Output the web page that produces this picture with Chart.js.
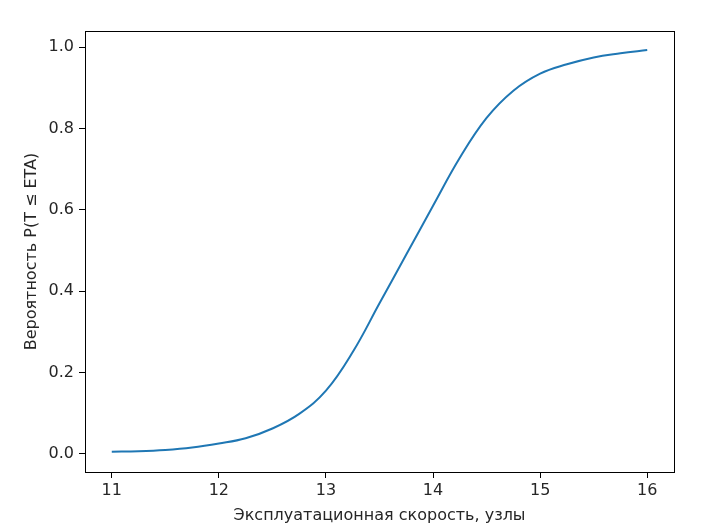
<!DOCTYPE html>
<html>
<head>
<meta charset="utf-8">
<script src="https://cdn.jsdelivr.net/npm/chart.js@4.4.1/dist/chart.umd.min.js"></script>
<style>
  html, body { margin: 0; padding: 0; background: #fff; }
  #wrap { width: 711px; height: 530px; }
</style>
</head>
<body>
<div id="wrap"><canvas id="cdf-chart" width="711" height="530"></canvas></div>
<script>
// Speed values (knots) and probability
const speeds = [11.0, 11.25, 11.5, 11.75, 12.0, 12.25, 12.5, 12.75, 13.0, 13.25, 13.5,
                13.75, 14.0, 14.25, 14.5, 14.75, 15.0, 15.25, 15.5, 15.75, 16.0];
const probs = [0.005, 0.006, 0.009, 0.015, 0.025, 0.038, 0.062, 0.098, 0.155, 0.250, 0.370,
               0.490, 0.610, 0.728, 0.826, 0.893, 0.935, 0.958, 0.975, 0.985, 0.993];
const xTicks = [11, 12, 13, 14, 15, 16];
const yTicks = [0.0, 0.2, 0.4, 0.6, 0.8, 1.0];

const points = speeds.map((s, i) => ({ x: s, y: probs[i] }));
const textColor = '#262626';
const font = { family: 'DejaVu Sans', size: 16 };

// Box around plot area, like matplotlib spines
const frame = {
  id: 'frame',
  afterDraw(chart) {
    const { ctx, chartArea: a } = chart;
    ctx.save();
    ctx.strokeStyle = '#000';
    ctx.lineWidth = 1;
    ctx.strokeRect(a.left + 0.5, a.top + 0.5, a.right - a.left, a.bottom - a.top);
    ctx.restore();
  }
};

new Chart(document.getElementById('cdf-chart'), {
  type: 'line',
  data: {
    datasets: [{
      data: points,
      borderColor: '#1f77b4',
      borderWidth: 2,
      pointRadius: 0,
      tension: 0.4,
      fill: false
    }]
  },
  options: {
    responsive: false,
    animation: false,
    layout: { padding: { top: 31, right: 37, left: 0, bottom: 0 } },
    plugins: { legend: { display: false }, tooltip: { enabled: false } },
    scales: {
      x: {
        type: 'linear',
        min: 10.75,
        max: 16.25,
        afterBuildTicks: (scale) => { scale.ticks = xTicks.map(v => ({ value: v })); },
        afterFit: (scale) => { scale.height = 58; },
        ticks: { color: textColor, font: font, padding: 3, callback: v => String(v) },
        grid: { drawOnChartArea: false, drawTicks: true, tickLength: 6, color: '#000' },
        border: { display: true, color: '#000' },
        title: {
          display: true,
          text: 'Эксплуатационная скорость, узлы',
          color: textColor,
          font: font,
          padding: { top: 2, bottom: 5 }
        }
      },
      y: {
        min: -0.045,
        max: 1.04,
        afterBuildTicks: (scale) => { scale.ticks = yTicks.map(v => ({ value: v })); },
        afterFit: (scale) => { scale.width = 85; },
        ticks: { color: textColor, font: font, padding: 5, callback: v => v.toFixed(1) },
        grid: { drawOnChartArea: false, drawTicks: true, tickLength: 6, color: '#000' },
        border: { display: true, color: '#000' },
        title: {
          display: true,
          text: 'Вероятность P(T ≤ ETA)',
          color: textColor,
          font: font,
          padding: { top: 22, bottom: 0 }
        }
      }
    }
  },
  plugins: [frame]
});
</script>
</body>
</html>
